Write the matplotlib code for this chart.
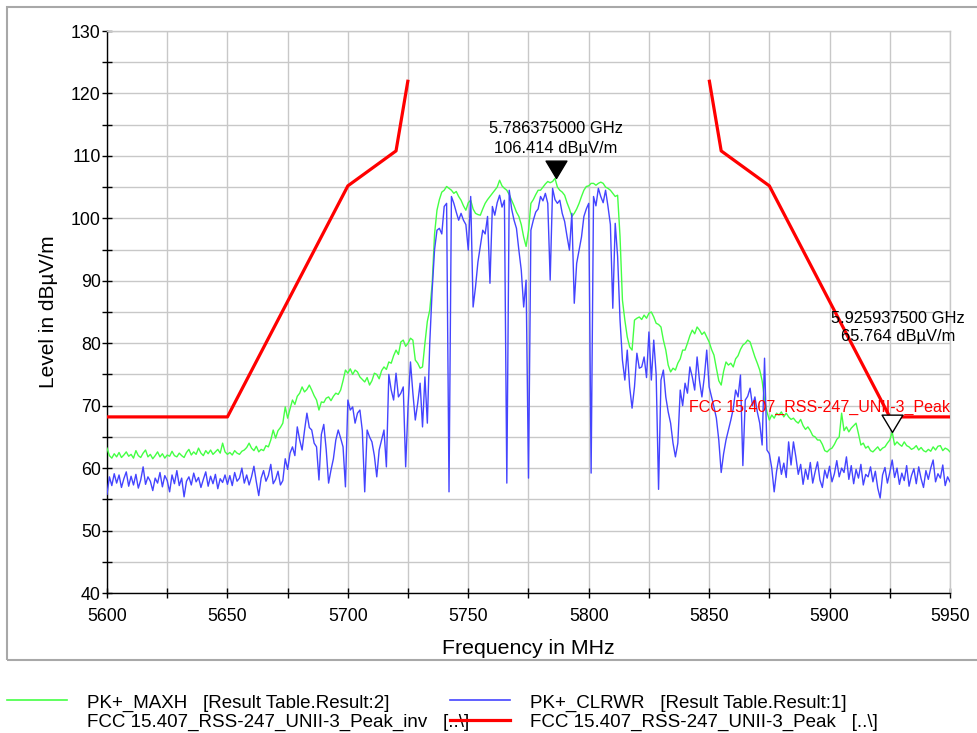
import numpy as np
import matplotlib
matplotlib.use("Agg")
import matplotlib.pyplot as plt
from matplotlib.lines import Line2D
from matplotlib.patches import Rectangle
from matplotlib.path import Path
from matplotlib.ticker import MultipleLocator

plt.rcParams['font.family'] = ['Liberation Sans', 'DejaVu Sans']

# ---------------- data ----------------
start_mhz = 5600
step_mhz = 1

maxh_dbuv = [
    63.2, 62.0, 61.6, 62.3, 61.8, 62.5, 61.7, 62.1, 62.6, 61.9,
    62.2, 61.6, 62.8, 62.0, 61.7, 62.4, 62.9, 61.8, 62.2, 61.5,
    62.0, 62.6, 61.8, 62.3, 61.6, 62.1, 61.9, 62.7, 62.0, 61.8,
    62.4, 62.0, 61.7, 62.5, 63.0, 62.1, 62.6, 62.2, 63.2, 62.4,
    62.0, 62.8, 62.3, 62.9, 62.2, 62.6, 63.0, 62.4, 64.0, 62.6,
    62.2, 62.5, 62.1, 62.8, 62.4, 62.2, 62.7, 62.9, 63.3, 64.0,
    63.2, 62.8, 63.5, 62.6, 63.0, 62.8, 63.6, 63.4, 64.5, 66.1,
    64.8, 66.0, 66.5, 67.2, 69.8, 68.0, 69.5, 70.9, 70.2, 71.5,
    72.0, 73.0, 72.2, 72.6, 73.3, 72.5, 71.6, 70.9, 69.3, 70.6,
    70.5, 71.2, 71.4, 70.8, 71.5, 72.0, 71.8, 72.5, 74.0, 75.7,
    75.2, 75.9, 75.0, 75.7, 75.4, 74.6, 74.2, 73.8, 74.5, 73.3,
    74.0, 75.2, 75.0, 74.3, 75.6, 76.2, 75.8, 77.0, 76.8, 78.0,
    78.9, 78.2, 80.2, 80.5, 79.5, 80.0, 80.8, 80.5, 77.3, 76.8,
    76.0, 76.2, 80.0, 83.5, 85.3, 89.5, 97.5, 101.3, 103.0, 104.2,
    104.5, 105.1, 104.8, 104.5, 104.0, 104.3, 103.5, 102.9, 102.0, 101.3,
    102.5, 102.9, 101.5, 100.8, 100.6, 100.5, 101.5, 102.4, 103.0, 103.5,
    104.0, 104.5, 105.0, 106.1, 105.2, 104.8, 104.5, 103.8, 102.9, 102.0,
    101.0, 100.3, 99.0, 97.0, 95.5, 98.0, 102.4, 103.0, 103.8, 104.5,
    104.5, 105.0, 105.5, 105.9, 105.7, 105.9, 106.4, 105.0, 104.5, 104.2,
    103.7, 102.5, 101.5, 100.3, 100.8, 101.5, 102.4, 103.5, 104.5, 105.1,
    105.2, 105.6, 105.6, 105.3, 105.6, 105.8, 105.6, 105.0, 104.8, 104.5,
    104.0, 103.5, 103.7, 97.1, 86.9, 83.7, 81.0, 79.4, 78.9, 83.7,
    84.0, 84.2, 83.8, 84.5, 84.0, 84.8, 85.0, 84.2, 83.2, 83.0,
    82.6, 80.5, 78.9, 76.5, 75.4, 76.0, 75.7, 76.8, 77.5, 78.9,
    78.9, 80.0, 81.2, 82.1, 81.5, 82.6, 82.1, 81.4, 81.8, 81.0,
    80.2, 79.0, 78.1, 76.0, 74.0, 73.3, 75.5, 77.0, 76.5, 76.8,
    76.2, 77.5, 78.0, 79.0, 79.7, 80.0, 80.5, 80.2, 79.0, 77.8,
    76.8, 75.7, 74.0, 70.9, 69.0, 67.7, 68.5, 68.0, 68.8, 68.5,
    69.0, 68.2, 68.8, 68.2, 67.8, 68.0, 67.5, 67.2, 67.8, 66.8,
    66.2, 66.6, 66.0, 65.2, 65.0, 64.5, 64.5, 63.8, 62.8, 62.6,
    63.0, 63.2, 63.8, 64.6, 65.0, 68.8, 66.0, 66.6, 65.8, 66.4,
    66.8, 67.2, 65.5, 63.7, 64.0, 63.2, 63.5, 62.8, 62.6, 63.0,
    63.4, 62.8, 63.2, 63.4, 64.0, 64.5, 65.8, 63.7, 64.2, 63.8,
    63.5, 64.2, 63.6, 63.4, 63.0, 63.2, 63.6, 62.9, 63.3, 62.8,
    62.6, 63.0, 62.7, 63.4, 62.9, 63.5, 63.6, 62.8, 63.2, 63.0,
    62.6,
]

clrwr_dbuv = [
    55.8, 58.6, 57.2, 59.1, 57.6, 58.9, 56.9, 58.3, 59.4, 57.1,
    58.7, 57.3, 59.0, 56.8, 58.1, 60.2, 57.4, 58.6, 57.9, 56.4,
    58.4, 57.6, 59.3, 57.0, 58.8, 58.0, 56.2, 58.9, 57.5, 59.6,
    57.2, 58.4, 55.4, 57.9, 58.6, 57.3, 59.2, 57.8, 58.5, 56.9,
    58.2, 59.4, 57.1, 58.7, 57.5, 59.0, 56.7, 58.3, 57.7, 58.9,
    57.4, 58.8, 57.2, 59.3, 57.9, 58.4, 60.0, 57.6, 58.9, 57.3,
    58.6, 60.3, 57.8, 55.6, 58.4, 59.6, 57.9, 58.8, 60.6, 57.5,
    58.2, 59.5, 57.3, 58.0, 61.5, 59.8, 62.4, 63.4, 62.0, 66.6,
    64.5, 62.9, 66.0, 68.8, 66.5, 66.1, 64.0, 63.4, 58.1, 65.4,
    67.0, 63.0, 57.6, 59.7, 61.5, 64.5, 66.1, 64.8, 63.4, 57.0,
    70.9, 69.3, 69.8, 67.2, 68.8, 69.3, 66.0, 56.2, 66.1, 65.0,
    64.2, 62.0, 58.6, 62.9, 64.5, 66.1, 60.2, 75.0, 72.5, 70.9,
    75.2, 71.4, 72.0, 73.0, 60.2, 70.0, 77.0, 72.0, 67.7, 70.4,
    73.6, 66.6, 74.6, 67.2, 80.0, 88.5, 95.0, 98.1, 98.4, 97.5,
    101.9, 102.4, 56.2, 103.5, 102.4, 101.0, 99.7, 100.8, 99.7, 99.0,
    94.9, 103.5, 85.8, 89.0, 93.0, 95.5, 98.1, 97.5, 100.3, 89.6,
    101.9, 100.5, 102.5, 103.7, 101.8, 102.9, 57.6, 104.5, 101.5, 99.7,
    98.4, 94.9, 91.7, 85.8, 90.1, 58.4, 98.1, 99.7, 101.0, 101.5,
    103.5, 102.8, 104.0, 102.4, 90.1, 104.8, 103.0, 102.4, 102.9, 100.8,
    99.5, 97.1, 94.9, 100.8, 86.4, 92.8, 94.9, 97.0, 100.3, 101.5,
    102.4, 59.2, 103.5, 102.0, 104.8, 103.5, 102.5, 104.5, 101.9, 99.0,
    85.6, 99.2, 93.9, 83.7, 77.3, 74.1, 78.9, 73.0, 69.6, 73.0,
    78.4, 76.0, 76.2, 77.8, 74.5, 81.8, 74.1, 80.5, 75.0, 56.6,
    74.1, 75.7, 71.4, 69.0, 67.2, 64.0, 61.8, 64.0, 72.5, 70.0,
    73.6, 72.0, 76.2, 74.6, 72.5, 77.8, 74.0, 71.4, 74.6, 78.9,
    73.0, 71.4, 69.8, 68.0, 64.5, 59.3, 62.3, 64.5, 66.1, 67.7,
    69.5, 72.5, 71.4, 74.9, 60.4, 70.9, 71.5, 72.8, 70.0, 71.4,
    69.0, 67.2, 63.7, 77.6, 62.9, 62.3, 60.0, 56.2, 59.5, 61.8,
    59.0, 60.8, 58.5, 64.2, 60.5, 64.2, 61.8, 59.0, 60.6, 57.4,
    59.8, 58.2, 60.9, 57.6, 59.4, 61.0, 58.1, 56.9, 59.7, 58.4,
    60.3, 57.8, 59.1, 61.2, 58.6, 60.0, 59.3, 61.8, 58.2, 60.4,
    57.5, 59.8, 58.4, 60.6, 57.3, 59.0, 58.6, 60.2, 57.8, 59.5,
    56.8, 55.2, 58.9, 60.1, 57.6, 59.3, 61.3, 58.5, 60.0, 57.4,
    59.2, 58.0, 60.4, 57.1, 58.8, 59.9, 57.5, 60.2, 58.3, 56.9,
    59.6, 58.2, 60.0, 61.3, 57.8, 59.1, 58.4, 60.5, 57.2, 58.6,
    57.8,
]

limit_left_mhz = [5600, 5650, 5700, 5720, 5725]
limit_left_dbuv = [68.2, 68.2, 105.2, 110.8, 122.2]
limit_right_mhz = [5850, 5855, 5875, 5925, 5950]
limit_right_dbuv = [122.2, 110.8, 105.2, 68.2, 68.2]

marker1 = (5786.375, 106.414)
marker2 = (5925.9375, 65.764)
marker1_text = ["5.786375000 GHz", "106.414 dB\u00b5V/m"]
marker2_text = ["5.925937500 GHz", "65.764 dB\u00b5V/m"]

legend_labels = ["PK+_MAXH   [Result Table.Result:2]",
                 "FCC 15.407_RSS-247_UNII-3_Peak_inv   [..\\]",
                 "PK+_CLRWR   [Result Table.Result:1]",
                 "FCC 15.407_RSS-247_UNII-3_Peak   [..\\]"]
limit_label = "FCC 15.407_RSS-247_UNII-3_Peak"

freq_mhz = start_mhz + step_mhz * np.arange(len(maxh_dbuv))

# ---------------- figure ----------------
W, H = 977, 733
fig = plt.figure(figsize=(W / 100, H / 100), dpi=100)

def fx(px):
    return px / W

def fy(py):
    return 1 - py / H

# outer frame
fig.add_artist(Rectangle((fx(7), fy(660)), 1.0, fy(7) - fy(660),
                         transform=fig.transFigure, fill=False,
                         edgecolor='#a8a8a8', lw=1.5))

ax = fig.add_axes([fx(107), fy(593), fx(950) - fx(107), fy(31) - fy(593)])

GREEN = '#44ff44'
BLUE = '#4444ff'
RED = '#ff0000'

ax.plot(freq_mhz, maxh_dbuv, color=GREEN, lw=1.0, zorder=3)
ax.plot(freq_mhz, clrwr_dbuv, color=BLUE, lw=1.0, zorder=4)
ax.plot(limit_left_mhz, limit_left_dbuv, color=RED, lw=2.3, zorder=5,
        solid_capstyle='butt')
ax.plot(limit_right_mhz, limit_right_dbuv, color=RED, lw=2.3, zorder=5,
        solid_capstyle='butt')

ax.set_xlim(5600, 5950)
ax.set_ylim(40, 130)
ax.xaxis.set_major_locator(MultipleLocator(50))
ax.xaxis.set_minor_locator(MultipleLocator(25))
ax.yaxis.set_major_locator(MultipleLocator(10))
ax.yaxis.set_minor_locator(MultipleLocator(5))
ax.grid(True, which='both', color='#c8c8c8', lw=1.0, zorder=0)
ax.set_axisbelow(True)
for s in ['top', 'right']:
    ax.spines[s].set_color('#c8c8c8')
    ax.spines[s].set_linewidth(1.0)
for s in ['left', 'bottom']:
    ax.spines[s].set_color('black')
    ax.spines[s].set_linewidth(1.0)
ax.tick_params(which='both', direction='inout', length=7, width=1.0,
               color='black', labelsize=12.8, top=False, right=False)
ax.tick_params(axis='y', pad=1)
ax.tick_params(axis='x', pad=7)

ax.set_xlabel("Frequency in MHz", fontsize=15.3, labelpad=10.5)
ax.set_ylabel("Level in dB\u00b5V/m", fontsize=15, labelpad=9)

# markers (tip at data point)
tri = Path([(-0.6, 1.0), (0.6, 1.0), (0.0, 0.0), (-0.6, 1.0)],
           [Path.MOVETO, Path.LINETO, Path.LINETO, Path.CLOSEPOLY])
ax.plot([marker1[0]], [marker1[1]], marker=tri, ms=25, color='black',
        mfc='black', mec='black', ls='none', zorder=6)
ax.plot([marker2[0]], [marker2[1]], marker=tri, ms=25, mfc='white',
        mec='black', mew=1.0, ls='none', zorder=6)

ax.text(marker1[0], 114.4, marker1_text[0], ha='center', va='center',
        fontsize=11.9, zorder=7)
ax.text(marker1[0], 111.2, marker1_text[1], ha='center', va='center',
        fontsize=11.9, zorder=7)
ax.text(5928.5, 84.0, marker2_text[0], ha='center', va='center',
        fontsize=11.9, zorder=7)
ax.text(5928.5, 81.0, marker2_text[1], ha='center', va='center',
        fontsize=11.9, zorder=7)

ax.text(5950, 69.7, limit_label, color=RED, ha='right', va='center',
        fontsize=11.5, zorder=7)

# legend (manual, two columns)
LEG_FS = 13.5
fig.add_artist(Line2D([fx(7), fx(67)], [fy(700), fy(700)], color=GREEN,
                      lw=1.2, transform=fig.transFigure))
fig.add_artist(Line2D([fx(450), fx(510)], [fy(700), fy(700)], color=BLUE,
                      lw=1.2, transform=fig.transFigure))
fig.add_artist(Line2D([fx(450), fx(510)], [fy(720), fy(720)], color=RED,
                      lw=2.3, transform=fig.transFigure, zorder=10))
fig.text(fx(87), fy(708), legend_labels[0], fontsize=LEG_FS, va='baseline')
fig.text(fx(87), fy(727), legend_labels[1], fontsize=LEG_FS, va='baseline')
fig.text(fx(530), fy(708), legend_labels[2], fontsize=LEG_FS, va='baseline')
fig.text(fx(530), fy(727), legend_labels[3], fontsize=LEG_FS, va='baseline')

fig.savefig("out.png", dpi=100)
